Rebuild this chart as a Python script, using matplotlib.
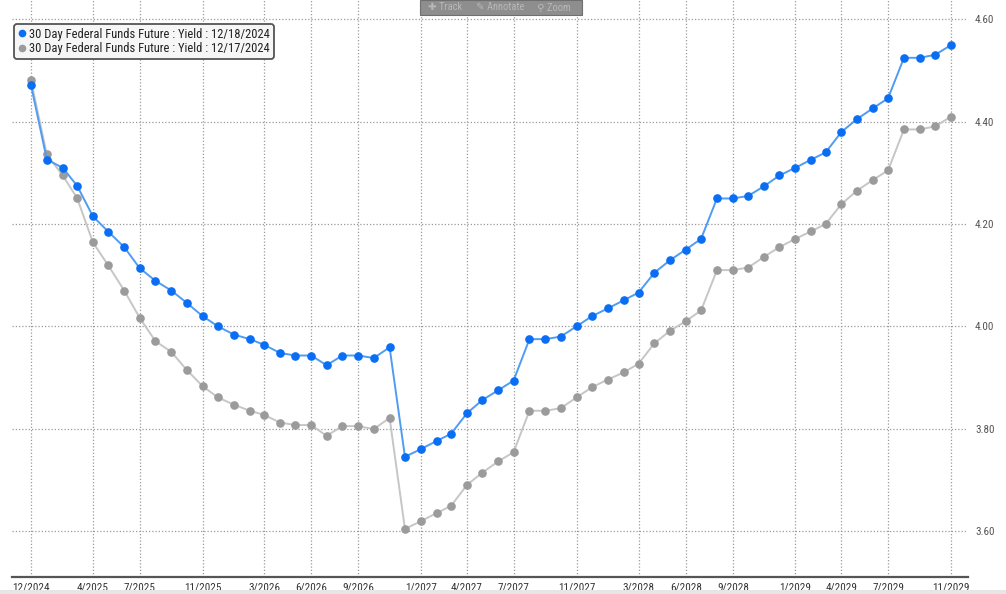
import matplotlib
matplotlib.use("Agg")
import matplotlib.pyplot as plt
from matplotlib import font_manager
from matplotlib.lines import Line2D
from matplotlib.patches import Rectangle
import pandas as pd

# ---------------- data ----------------
start_month = "2024-12-01"
n_months = 60

yield_1218 = [
    4.472, 4.326, 4.310, 4.275, 4.215, 4.185, 4.155, 4.114, 4.089, 4.070,
    4.046, 4.020, 4.000, 3.984, 3.975, 3.964, 3.948, 3.943, 3.943, 3.924,
    3.943, 3.943, 3.938, 3.959, 3.745, 3.760, 3.776, 3.790, 3.830, 3.856,
    3.875, 3.894, 3.975, 3.975, 3.980, 4.000, 4.020, 4.035, 4.051, 4.066,
    4.105, 4.129, 4.150, 4.171, 4.250, 4.250, 4.255, 4.274, 4.295, 4.310,
    4.326, 4.340, 4.380, 4.405, 4.426, 4.446, 4.525, 4.525, 4.531, 4.550,
]
yield_1217 = [
    4.481, 4.336, 4.295, 4.251, 4.164, 4.119, 4.070, 4.017, 3.971, 3.950,
    3.915, 3.883, 3.861, 3.847, 3.835, 3.827, 3.812, 3.807, 3.807, 3.786,
    3.805, 3.805, 3.799, 3.821, 3.604, 3.619, 3.635, 3.649, 3.690, 3.714,
    3.736, 3.754, 3.835, 3.835, 3.840, 3.861, 3.881, 3.896, 3.910, 3.927,
    3.967, 3.991, 4.010, 4.031, 4.110, 4.110, 4.115, 4.136, 4.155, 4.171,
    4.186, 4.200, 4.239, 4.265, 4.286, 4.305, 4.385, 4.385, 4.391, 4.410,
]
series_labels = [
    "30 Day Federal Funds Future : Yield : 12/18/2024",
    "30 Day Federal Funds Future : Yield : 12/17/2024",
]
x_tick_labels = ["12/2024", "4/2025", "7/2025", "11/2025", "3/2026", "6/2026",
                 "9/2026", "1/2027", "4/2027", "7/2027", "11/2027", "3/2028",
                 "6/2028", "9/2028", "1/2029", "4/2029", "7/2029", "11/2029"]
y_ticks = [3.60, 3.80, 4.00, 4.20, 4.40, 4.60]
toolbar_items = ["\u271A Track", "\u270E Annotate", "\u26B2 Zoom"]

# ---------------- fonts ----------------
def pick_font(cands):
    for c in cands:
        try:
            font_manager.findfont(c, fallback_to_default=False)
            return c
        except Exception:
            continue
    return "DejaVu Sans"

narrow = pick_font(["Liberation Sans Narrow", "DejaVu Sans Condensed", "Roboto Condensed",
                    "Open Sans Condensed", "Liberation Sans"])
plt.rcParams["font.family"] = [narrow, "DejaVu Sans"]

# ---------------- figure ----------------
W, H = 1006, 594
fig = plt.figure(figsize=(W / 100, H / 100), dpi=100)
fig.patch.set_facecolor("white")

ax_left, ax_right, ax_top, ax_bottom = 12, 968, 0, 577
ax = fig.add_axes([ax_left / W, 1 - ax_bottom / H, (ax_right - ax_left) / W, (ax_bottom - ax_top) / H])
ax.set_facecolor("white")

dates = pd.date_range(start_month, periods=n_months, freq="MS")

blue_line = "#4f9cf2"
blue_mk = "#0a6ef5"
gray_line = "#c6c6c6"
gray_mk = "#9b9b9b"

ax.plot(dates, yield_1217, color=gray_line, lw=1.4, zorder=3)
ax.plot(dates, yield_1217, ls="none", marker="o", ms=5.2, color=gray_mk, mec=gray_mk, zorder=4)
ax.plot(dates, yield_1218, color=blue_line, lw=1.4, zorder=5)
ax.plot(dates, yield_1218, ls="none", marker="o", ms=5.2, color=blue_mk, mec=blue_mk, zorder=6)

ax.set_xlim(pd.Timestamp("2024-10-25"), pd.Timestamp("2029-12-04"))
ax.set_ylim(3.51, 4.638)

tick_dates = [pd.Timestamp(year=int(s.split("/")[1]), month=int(s.split("/")[0]), day=1) for s in x_tick_labels]
ax.set_xticks(tick_dates)
ax.set_xticklabels(x_tick_labels)
ax.set_yticks(y_ticks)
ax.set_yticklabels([f"{v:.2f}" for v in y_ticks])
ax.yaxis.tick_right()

ax.tick_params(axis="x", length=0, pad=4, labelsize=8, colors="#333333")
ax.tick_params(axis="y", length=0, pad=5, labelsize=8, colors="#555555")

grid_kw = dict(color="#9a9a9a", linestyle=(0, (1, 1.6)), linewidth=0.9)
ax.grid(True, axis="both", **grid_kw)
ax.set_axisbelow(True)

for s in ["top", "left", "right"]:
    ax.spines[s].set_visible(False)
ax.spines["bottom"].set_color("#555555")
ax.spines["bottom"].set_linewidth(1.6)

# legend
handles = [
    Line2D([], [], ls="none", marker="o", ms=4.5, color=blue_mk),
    Line2D([], [], ls="none", marker="o", ms=4.5, color=gray_mk),
]
leg = fig.legend(handles, series_labels, loc="upper left",
                 bbox_to_anchor=(14 / W, 1 - 24 / H), bbox_transform=fig.transFigure,
                 frameon=True, fancybox=True, fontsize=9, handlelength=0.6,
                 handletextpad=0.3, borderpad=0.3, labelspacing=0.1, borderaxespad=0)
leg.get_frame().set_edgecolor("#555555")
leg.get_frame().set_facecolor("#f6f6f6")
leg.get_frame().set_linewidth(1.3)
leg.get_frame().set_alpha(1)
for t in leg.get_texts():
    t.set_color("#222222")

# toolbar (top)
tb = Rectangle((420 / W, 1 - 15 / H), 162 / W, 15 / H, transform=fig.transFigure,
               facecolor="#8e8e8e", edgecolor="#6f6f6f", lw=0.8, zorder=10)
fig.patches.append(tb)
for label, xp in zip(toolbar_items, [428, 476, 537]):
    fig.text(xp / W, 1 - 7.5 / H, label, color="#b8b8b8", fontsize=7.5, va="center",
             ha="left", zorder=11, family=[narrow, "DejaVu Sans"])

# bottom light strip
fig.patches.append(Rectangle((0, 0), 1, 4 / H, transform=fig.transFigure,
                             facecolor="#e6e6e6", edgecolor="none", zorder=0))

fig.savefig("out.png", dpi=100)
